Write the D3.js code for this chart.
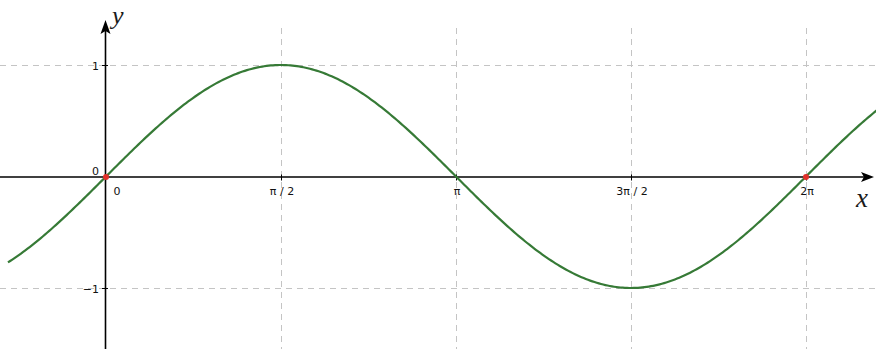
<!DOCTYPE html>
<html>
<head>
<meta charset="utf-8">
<script src="https://cdn.jsdelivr.net/npm/d3@7"></script>
<style>
  html, body { margin: 0; padding: 0; background: #fff; }
  svg { display: block; }
</style>
</head>
<body>
<svg id="chart" width="876" height="349"></svg>
<script>
// Tick positions and labels
const xTickValues = [0, Math.PI / 2, Math.PI, 3 * Math.PI / 2, 2 * Math.PI];
const xTickLabels = ["0", "π / 2", "π", "3π / 2", "2π"];
const yTickValues = [-1, 0, 1];
const yTickLabels = ["−1", "0", "1"];
// Highlighted points on the curve
const markedX = [0, 2 * Math.PI];
// Sample points along y = sin(x)
const sampleCount = 400;
const xStart = -0.88, xEnd = 6.92;

const W = 876, H = 349;
const svg = d3.select("#chart");

const x = d3.scaleLinear().domain([0, 2 * Math.PI]).range([106, 806]);
const y = d3.scaleLinear().domain([-1, 1]).range([288, 65]);
const x0 = x(0), y0 = y(0);

// Grid lines
const grid = svg.append("g").attr("stroke", "#c4c4c4").attr("stroke-width", 1)
  .attr("stroke-dasharray", "6,5").attr("fill", "none");
yTickValues.filter(v => v !== 0).forEach(v => {
  grid.append("line").attr("x1", 0).attr("x2", W).attr("y1", y(v) + 0.5).attr("y2", y(v) + 0.5);
});
xTickValues.filter(v => v !== 0).forEach(v => {
  grid.append("line").attr("x1", x(v) + 0.5).attr("x2", x(v) + 0.5).attr("y1", 28).attr("y2", H);
});

// Axes drawn with d3 axis generators
const xAxis = d3.axisBottom(x).tickValues(xTickValues).tickSize(0).tickFormat(() => "");
const yAxis = d3.axisLeft(y).tickValues(yTickValues).tickSize(0).tickFormat(() => "");
const gx = svg.append("g").attr("transform", `translate(0,${y0})`).call(xAxis);
gx.select(".domain").remove();
const gy = svg.append("g").attr("transform", `translate(${x0},0)`).call(yAxis);
gy.select(".domain").remove();

svg.append("line").attr("x1", 0).attr("x2", W - 10).attr("y1", y0 + 0.5).attr("y2", y0 + 0.5)
  .attr("stroke", "#000").attr("stroke-width", 1.6);
svg.append("line").attr("x1", x0 - 0.5).attr("x2", x0 - 0.5).attr("y1", 30).attr("y2", H)
  .attr("stroke", "#000").attr("stroke-width", 1.6);

// Arrow heads
svg.append("path")
  .attr("d", `M${W - 2},${y0 + 0.5} L${W - 15},${y0 - 4.5} L${W - 12},${y0 + 0.5} L${W - 15},${y0 + 5.5} Z`)
  .attr("fill", "#000");
svg.append("path")
  .attr("d", `M${x0 - 0.5},20 L${x0 - 5.5},34 L${x0 - 0.5},31 L${x0 + 4.5},34 Z`)
  .attr("fill", "#000");

// Small tick marks
xTickValues.filter(v => v !== 0).forEach(v => {
  svg.append("line").attr("x1", x(v) + 0.5).attr("x2", x(v) + 0.5).attr("y1", y0 - 2).attr("y2", y0 + 4)
    .attr("stroke", "#000");
});
yTickValues.filter(v => v !== 0).forEach(v => {
  svg.append("line").attr("x1", x0 - 4).attr("x2", x0 + 2).attr("y1", y(v) + 0.5).attr("y2", y(v) + 0.5)
    .attr("stroke", "#000");
});

// Tick labels
const labelFont = "DejaVu Sans, Liberation Sans, sans-serif";
xTickValues.forEach((v, i) => {
  const tx = v === 0 ? x0 + 11 : x(v) + 1;
  svg.append("text").attr("x", tx).attr("y", y0 + 18).attr("text-anchor", "middle")
    .attr("font-family", labelFont).attr("font-size", 11).attr("fill", "#111").text(xTickLabels[i]);
});
yTickValues.forEach((v, i) => {
  svg.append("text").attr("x", x0 - 7).attr("y", y(v) + (v === 0 ? -2 : 5)).attr("text-anchor", "end")
    .attr("font-family", labelFont).attr("font-size", 11).attr("fill", "#111").text(yTickLabels[i]);
});

// Axis names
svg.append("text").attr("x", 112).attr("y", 24).attr("font-family", "Liberation Serif, Times New Roman, serif")
  .attr("font-style", "italic").attr("font-size", 26).attr("fill", "#1a1a1a").text("y");
svg.append("text").attr("x", 856).attr("y", 207).attr("font-family", "Liberation Serif, Times New Roman, serif")
  .attr("font-style", "italic").attr("font-size", 27).attr("fill", "#1a1a1a").text("x");

// Sine curve
const pts = d3.range(sampleCount + 1).map(i => {
  const t = xStart + (xEnd - xStart) * i / sampleCount;
  return [t, Math.sin(t)];
});
svg.append("path").datum(pts)
  .attr("d", d3.line().x(d => x(d[0])).y(d => y(d[1])).curve(d3.curveLinear))
  .attr("fill", "none").attr("stroke", "#367a36").attr("stroke-width", 2.2);

// Marked points
markedX.forEach(v => {
  svg.append("circle").attr("cx", x(v)).attr("cy", y(Math.sin(v)) + 0.5).attr("r", 3)
    .attr("fill", "#e0302a");
});
</script>
</body>
</html>
